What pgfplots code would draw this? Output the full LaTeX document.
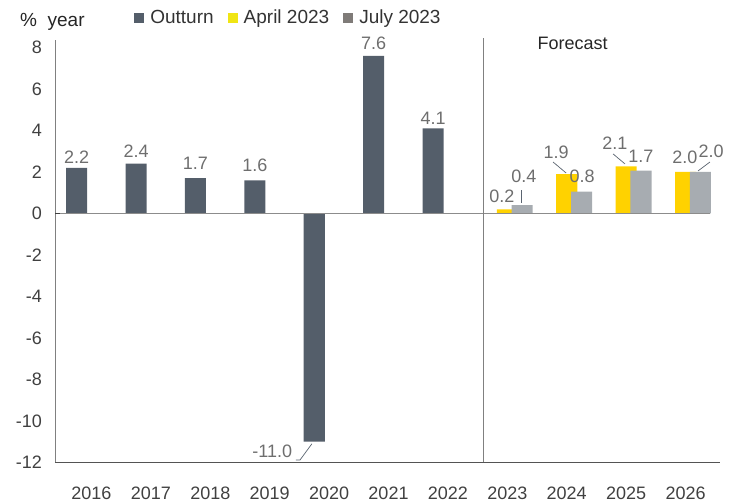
\documentclass[border=0pt]{standalone}
\usepackage{pgfplots}
\pgfplotsset{compat=1.18}
\usepackage{fontspec}
\setmainfont{Liberation Sans}
\definecolor{outc}{HTML}{545E6A}
\definecolor{aprc}{HTML}{FFD200}
\definecolor{julc}{HTML}{A7ACB1}
\definecolor{legyel}{HTML}{F0E514}
\definecolor{legjul}{HTML}{7F7B78}
\definecolor{lblc}{HTML}{6E6E6E}
\definecolor{tickc}{HTML}{404040}
\definecolor{leadc}{HTML}{5A6470}
\begin{document}
\begin{tikzpicture}
\useasboundingbox (0,0) rectangle (737pt,503pt);
\begin{axis}[
  at={(55pt,40.5pt)}, anchor=south west,
  scale only axis, width=665pt, height=422.5pt,
  xmin=-0.614, xmax=10.58, ymin=-12, ymax=8.36,
  axis lines*=left,
  x axis line style={color=tickc!90, line width=0.9pt},
  y axis line style={color=gray, line width=0.8pt},
  xtick={0,...,10},
  xticklabels={2016,2017,2018,2019,2020,2021,2022,2023,2024,2025,2026},
  ytick={-12,-10,...,8},
  major tick length=0pt,
  tick style={draw=none},
  /pgf/number format/assume math mode=true,
  tick label style={font=\fontsize{18}{21}\selectfont, text=tickc, inner sep=0pt},
  xticklabel style={anchor=base, yshift=-37.5pt},
  yticklabel style={anchor=east, xshift=-13pt},
  clip=false,
  legend columns=3,
  legend image code/.code={\fill[#1] (0pt,-5pt) rectangle (10pt,5pt);},
  legend style={at={(axis description cs:0.119,1.076)}, anchor=north west,
     draw=none, fill=none, inner sep=0pt,
     font=\fontsize{19}{22}\selectfont, text=black!80,
     /tikz/every odd column/.append style={column sep=4pt},
     /tikz/every even column/.append style={column sep=12pt}},
]
\addlegendimage{fill=outc, draw=none}
\addlegendentry{Outturn}
\addlegendimage{fill=legyel, draw=none}
\addlegendentry{April 2023}
\addlegendimage{fill=legjul, draw=none}
\addlegendentry{July 2023}

% Outturn
\addplot[ybar, bar width=0.354, bar shift=0pt, fill=outc, draw=none, forget plot]
  coordinates {(-0.25,2.2) (0.75,2.4) (1.75,1.7) (2.75,1.6) (3.75,-11.0) (4.75,7.6) (5.75,4.1)};
% April 2023 forecast
\addplot[ybar, bar width=0.354, bar shift=0pt, fill=aprc, draw=none, forget plot]
  coordinates {(7,0.2) (8,1.9) (9,2.27) (10,2.0)};
% July 2023 forecast
\addplot[ybar, bar width=0.354, bar shift=0pt, fill=julc, draw=none, forget plot]
  coordinates {(7.25,0.4) (8.25,1.05) (9.25,2.07) (10.25,2.0)};

% zero line and separator
\draw[color=gray!90, line width=0.8pt] (axis cs:-0.614,0) -- (axis cs:10.41,0);
\draw[color=tickc, line width=1.5pt] (axis cs:-0.614,0) -- (axis cs:-0.53,0);
\draw[color=gray, line width=0.8pt] (axis cs:6.6,-12) -- (axis cs:6.6,8.46);

\node[anchor=base, font=\fontsize{18}{21}\selectfont, text=black!85] at (axis cs:8.1,7.88) {Forecast};
\node[anchor=base west, font=\fontsize{19}{22}\selectfont, text=black!85, inner sep=0pt] at (axis description cs:-0.0526,1.0331) {\%\ \ year};

% data labels
\begin{scope}[every node/.style={anchor=base, inner sep=0pt, font=\fontsize{18}{21}\selectfont, text=lblc}]
\node at (axis cs:-0.25,2.43) {2.2};
\node at (axis cs:0.75,2.72) {2.4};
\node at (axis cs:1.75,2.10) {1.7};
\node at (axis cs:2.75,2.00) {1.6};
\node[anchor=base east] at (axis cs:3.38,-11.78) {-11.0};
\node at (axis cs:4.75,7.88) {7.6};
\node at (axis cs:5.75,4.31) {4.1};
\node at (axis cs:6.91,0.55) {0.2};
\node at (axis cs:7.28,1.47) {0.4};
\node at (axis cs:7.82,2.67) {1.9};
\node at (axis cs:8.26,1.47) {0.8};
\node at (axis cs:8.81,3.06) {2.1};
\node at (axis cs:9.25,2.48) {1.7};
\node at (axis cs:9.99,2.43) {2.0};
\node at (axis cs:10.43,2.72) {2.0};
\end{scope}
\begin{scope}[leadc, line width=0.7pt]
\draw (axis cs:3.44,-11.88) -- (axis cs:3.51,-11.88) -- (axis cs:3.71,-11.1);
\draw (axis cs:7.23,1.13) -- (axis cs:7.23,0.51);
\draw (axis cs:7.77,2.48) -- (axis cs:7.99,1.95);
\draw (axis cs:8.78,2.87) -- (axis cs:8.98,2.39);
\draw (axis cs:10.21,2.05) -- (axis cs:10.41,2.48);
\end{scope}
\end{axis}
\end{tikzpicture}
\end{document}
